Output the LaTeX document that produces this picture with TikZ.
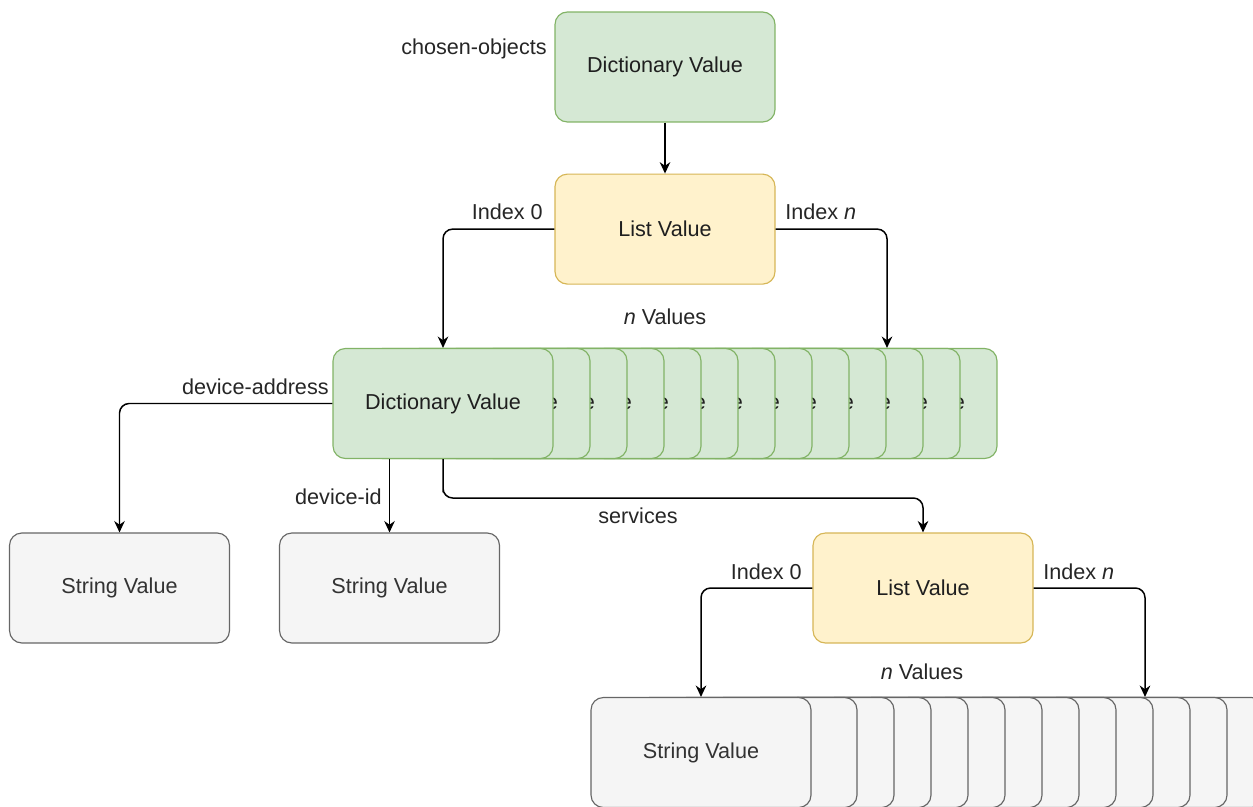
\documentclass[tikz,border=0pt]{standalone}
\usepackage{fontspec}
\setmainfont{Liberation Sans}
\usetikzlibrary{arrows.meta, positioning}
\definecolor{dictfill}{HTML}{D5E8D4}
\definecolor{dictdraw}{HTML}{82B366}
\definecolor{listfill}{HTML}{FFF2CC}
\definecolor{listdraw}{HTML}{D6B656}
\definecolor{strfill}{HTML}{F5F5F5}
\definecolor{strdraw}{HTML}{666666}
\definecolor{strtext}{HTML}{333333}

\begin{document}
\begin{tikzpicture}[x=0.02cm, y=-0.02cm,
                val/.style={rectangle,
                rounded corners=7pt,
                line width=0.65pt,
                minimum width=4.4cm,
                minimum height=2.2cm,
                text=black!88,
                font=\fontsize{12.3}{14}\selectfont},
                dict/.style={val, draw=dictdraw, fill=dictfill},
                lst/.style={val, draw=listdraw, fill=listfill},
                str/.style={val, draw=strdraw, fill=strfill, text=strtext},
                lbl/.style={inner sep=0pt, text=black!85,
                            font=\fontsize{12.3}{14}\selectfont},
                arr/.style={-{Stealth[length=6.5pt, width=6pt]}, black,
                            line width=0.85pt, rounded corners=5.5pt},
                node distance=1.02cm]
                \path[use as bounding box] (0,0) rectangle (1253,807);
                \clip (0,0) rectangle (1253,807);
                % top level
                \node[dict] (top) at (665,67) {Dictionary Value};
                \node[lst, below=of top] (list) {List Value};
                \node[lbl, anchor=east] (chosen) at (547,49) {chosen-objects};
                % n dictionaries, stacked back to front
                \foreach \i in {12,11,...,0}
                    \node[dict] (d\i) at ({443+37*\i},403.5) {Dictionary Value};
                \node[lbl, anchor=east] at (543,212) {Index 0};
                \node[lbl, anchor=west] at (785,212) {Index \textit{n}};
                \node[lbl] at (665,317) {\textit{n} Values};
                % fields of one dictionary
                \node[str] (s1) at (119.5,588) {String Value};
                \node[str] (s2) at (389.5,588) {String Value};
                \node[lst] (list2) at (923,588) {List Value};
                \node[lbl, anchor=east] at (329,387) {device-address};
                \node[lbl, anchor=east] at (382,497) {device-id};
                \node[lbl] at (638,516) {services};
                % n strings
                \foreach \i in {12,11,...,1}
                    \node[str] (e\i) at ({747+37*(\i-1)},752.5) {};
                \node[str] (e0) at (701,752.5) {String Value};
                \node[lbl, anchor=east] at (802,572) {Index 0};
                \node[lbl, anchor=west] at (1043,572) {Index \textit{n}};
                \node[lbl] at (922,672) {\textit{n} Values};
                \coordinate (elast) at ([xshift=-0.18cm]e12.north);
                % connectors
                \draw[arr] (top)--(list);
                \draw[arr] (list.west) -| (d0.north);
                \draw[arr] (list.east) -| (d12.north);
                \draw[arr] (d0.west) -| (s1.north);
                \draw[arr] (s2.north |- d0.south) -- (s2.north);
                \draw[arr] (d0.south) |- (443,498) -| (list2.north);
                \draw[arr] (list2.west) -| (e0.north);
                \draw[arr] (list2.east) -| (elast);
            \end{tikzpicture}
\end{document}
